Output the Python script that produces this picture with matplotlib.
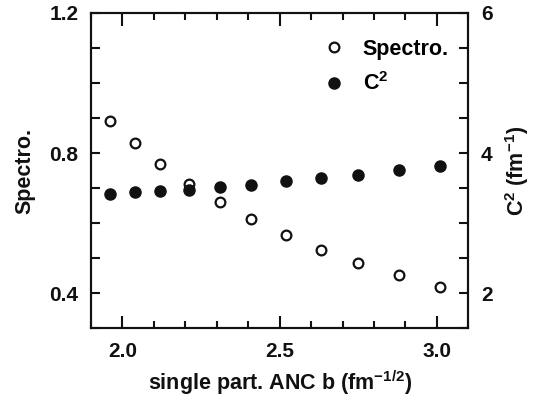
import matplotlib
matplotlib.use("Agg")
import matplotlib.pyplot as plt
from matplotlib.ticker import MultipleLocator

b = [1.96, 2.04, 2.12, 2.21, 2.31, 2.41, 2.52, 2.63, 2.75, 2.88, 3.01]
spectro = [0.892, 0.830, 0.770, 0.713, 0.660, 0.611, 0.566, 0.525, 0.487, 0.452, 0.419]
c2 = [3.42, 3.45, 3.46, 3.48, 3.52, 3.55, 3.60, 3.64, 3.69, 3.755, 3.815]

plt.rcParams['font.family'] = ['Liberation Sans', 'DejaVu Sans']
plt.rcParams['font.weight'] = 'bold'
plt.rcParams['mathtext.fontset'] = 'custom'
plt.rcParams['mathtext.rm'] = 'Liberation Sans:bold'
plt.rcParams['mathtext.it'] = 'Liberation Sans:bold'
plt.rcParams['mathtext.bf'] = 'Liberation Sans:bold'

fig = plt.figure(figsize=(5.42, 4.03), dpi=100)
ax = fig.add_axes([0.168, 0.185, 0.696, 0.783])
ax2 = ax.twinx()

l1, = ax.plot(b, spectro, 'o', ms=7.0, mfc='white', mec='#111111', mew=1.6, label='Spectro.')
l2, = ax2.plot(b, c2, 'o', ms=8.0, mfc='#111111', mec='#111111', label='C$^2$')

ax.set_xlim(1.9, 3.1)
ax.set_ylim(0.3, 1.2)
ax2.set_ylim(1.5, 6.0)

ax.xaxis.set_major_locator(MultipleLocator(0.5))
ax.xaxis.set_minor_locator(MultipleLocator(0.1))
ax.yaxis.set_major_locator(MultipleLocator(0.4))
ax.yaxis.set_minor_locator(MultipleLocator(0.1))
ax2.yaxis.set_major_locator(MultipleLocator(2))
ax2.yaxis.set_minor_locator(MultipleLocator(0.5))
ax.xaxis.set_major_formatter(plt.FuncFormatter(lambda v, p: f"{v:.1f}"))
ax.yaxis.set_major_formatter(plt.FuncFormatter(lambda v, p: f"{v:.1f}"))
ax2.yaxis.set_major_formatter(plt.FuncFormatter(lambda v, p: f"{v:.0f}"))

for a in (ax, ax2):
    for s in a.spines.values():
        s.set_linewidth(1.5)
        s.set_color('#111111')

ax.tick_params(axis='x', which='major', direction='in', length=9, width=1.5, top=True, labelsize=15, pad=10, colors='#111111')
ax.tick_params(axis='x', which='minor', direction='in', length=5, width=1.5, top=True, colors='#111111')
ax.tick_params(axis='y', which='both', direction='in', length=6.5, width=1.5, labelsize=15, pad=9, colors='#111111')
ax2.tick_params(axis='y', which='both', direction='in', length=6.5, width=1.5, labelsize=15, pad=9, colors='#111111')

ax.set_xlabel('single part. ANC b (fm$^{-1/2}$)', fontsize=15.5, fontweight='bold', labelpad=5, color='#111111')
ax.set_ylabel('Spectro.', fontsize=15.5, fontweight='bold', labelpad=10, color='#111111')
ax2.set_ylabel('C$^2$ (fm$^{-1}$)', fontsize=15.5, fontweight='bold', labelpad=8, color='#111111')

ax.legend([l1, l2], ['Spectro.', 'C$^2$'], loc='upper right', bbox_to_anchor=(1.0, 0.98),
          frameon=False, fontsize=15.5, handletextpad=0.85, labelspacing=0.6, handlelength=1.0)

fig.savefig('out.png', dpi=100)
